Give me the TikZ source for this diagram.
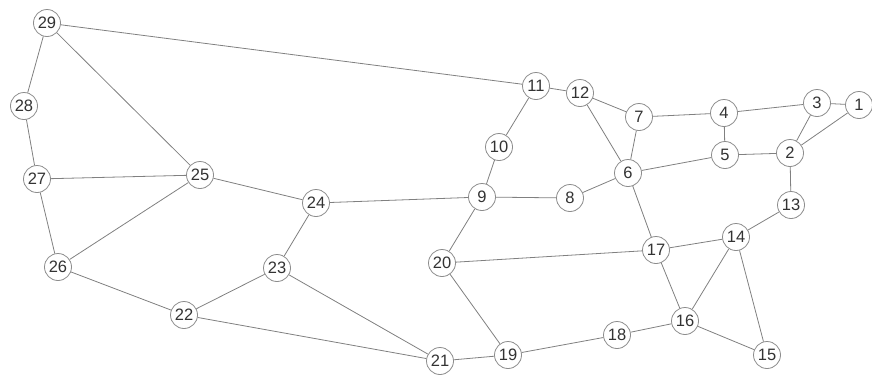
\documentclass[tikz,border=0pt]{standalone}
\usepackage{fontspec}
\setmainfont{Liberation Sans}
\begin{document}
\begin{tikzpicture}[x=1pt,y=-1pt,
  vtx/.style={circle,draw=black!45,fill=white,line width=0.8pt,minimum size=27pt,inner sep=0pt,font=\fontsize{16.5}{17}\selectfont,text=black!80},
  edge/.style={draw=black!50,line width=0.8pt}]
\useasboundingbox (0,0) rectangle (872,378);
\node[vtx] (n29) at (47,23) {29};
\node[vtx] (n28) at (24,106) {28};
\node[vtx] (n27) at (37,179) {27};
\node[vtx] (n26) at (58,267) {26};
\node[vtx] (n25) at (200,175) {25};
\node[vtx] (n24) at (316,203) {24};
\node[vtx] (n23) at (277,268) {23};
\node[vtx] (n22) at (184,315) {22};
\node[vtx] (n21) at (440,361) {21};
\node[vtx] (n20) at (442,263) {20};
\node[vtx] (n19) at (508,355) {19};
\node[vtx] (n18) at (617,335) {18};
\node[vtx] (n16) at (685,321) {16};
\node[vtx] (n15) at (767,355) {15};
\node[vtx] (n17) at (656,250) {17};
\node[vtx] (n14) at (736,237) {14};
\node[vtx] (n13) at (791,205) {13};
\node[vtx] (n2) at (790,153) {2};
\node[vtx] (n1) at (859,105) {1};
\node[vtx] (n3) at (817,103) {3};
\node[vtx] (n4) at (724,113) {4};
\node[vtx] (n5) at (725,155) {5};
\node[vtx] (n7) at (639,117) {7};
\node[vtx] (n6) at (628,173) {6};
\node[vtx] (n12) at (580,93) {12};
\node[vtx] (n11) at (536,86) {11};
\node[vtx] (n10) at (499,147) {10};
\node[vtx] (n9) at (482,197) {9};
\node[vtx] (n8) at (570,198) {8};
\foreach \a/\b in {29/28,29/11,29/25,28/27,27/25,27/26,26/25,26/22,25/24,24/9,24/23,23/22,23/21,22/21,21/19,20/9,20/17,20/19,19/18,18/16,16/17,16/14,16/15,15/14,14/17,14/13,13/2,2/5,2/3,2/1,3/1,3/4,4/7,4/5,5/6,7/6,7/12,6/12,6/8,6/17,12/11,11/10,10/9,9/8}
  \draw[edge] (n\a) -- (n\b);
\end{tikzpicture}
\end{document}
